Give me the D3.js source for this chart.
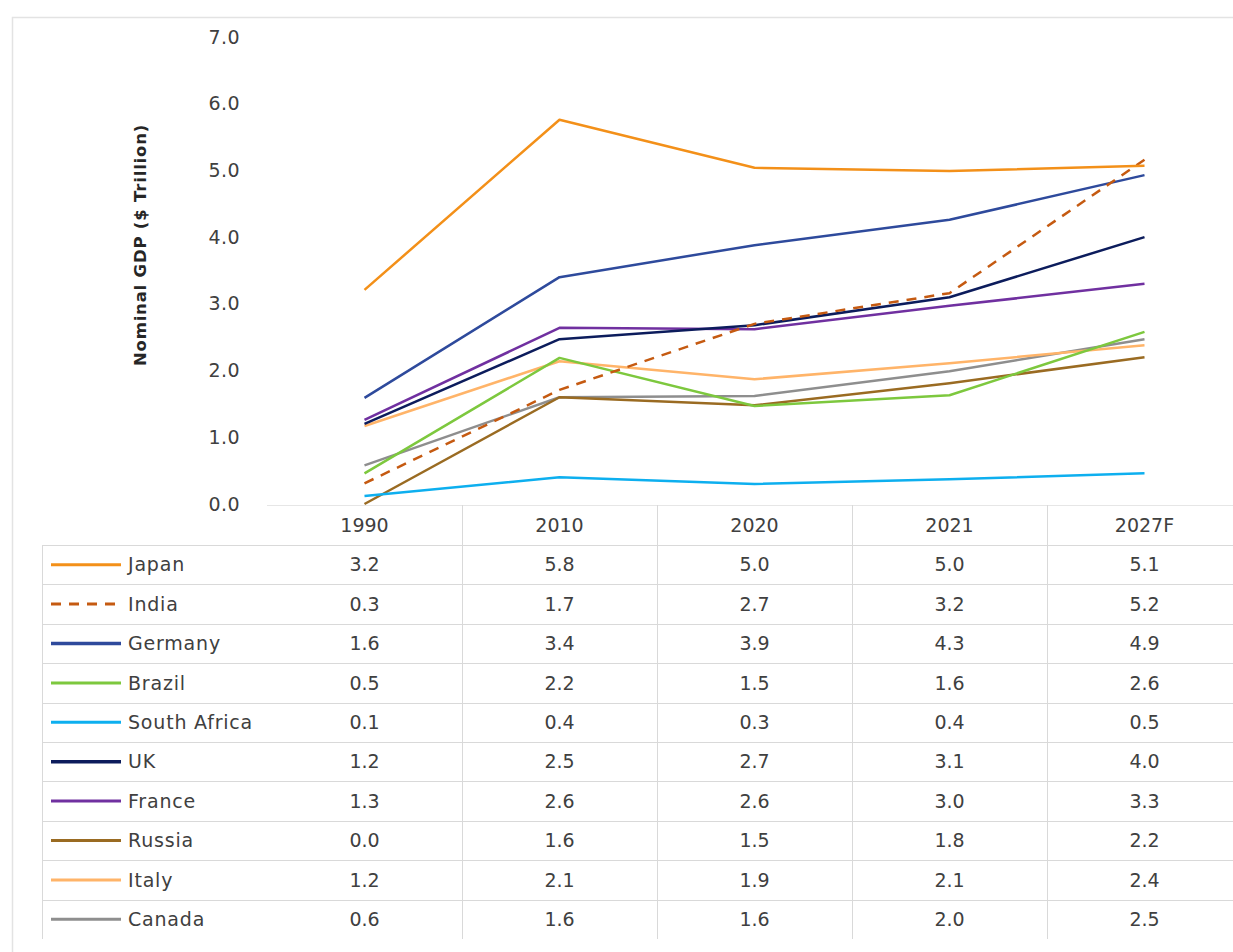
<!DOCTYPE html>
<html>
<head>
<meta charset="utf-8">
<script src="https://cdn.jsdelivr.net/npm/d3@7"></script>
<style>
  body { margin: 0; background: #fff; }
  svg { display: block; font-family: "DejaVu Sans", "Open Sans", sans-serif; }
</style>
</head>
<body>
<svg id="chart" width="1233" height="952"></svg>
<script>
// categories and series (table shows them rounded)
const years = ['1990', '2010', '2020', '2021', '2027F'];
const countries = ['Japan', 'India', 'Germany', 'Brazil', 'South Africa', 'UK', 'France', 'Russia', 'Italy', 'Canada'];
const japan = [3.21, 5.76, 5.04, 4.99, 5.07];
const india = [0.31, 1.71, 2.70, 3.16, 5.16];
const germany = [1.59, 3.40, 3.88, 4.26, 4.93];
const brazil = [0.46, 2.19, 1.47, 1.63, 2.58];
const southAfrica = [0.12, 0.40, 0.30, 0.37, 0.46];
const uk = [1.20, 2.47, 2.68, 3.10, 4.00];
const france = [1.26, 2.64, 2.62, 2.97, 3.30];
const russia = [0.00, 1.60, 1.48, 1.81, 2.20];
const italy = [1.17, 2.14, 1.87, 2.11, 2.38];
const canada = [0.58, 1.60, 1.62, 1.99, 2.47];
const yTicks = [0, 1, 2, 3, 4, 5, 6, 7];

const seriesValues = [japan, india, germany, brazil, southAfrica, uk, france, russia, italy, canada];
const colors = ['#F39019', '#C55A11', '#2E4A9C', '#7DC83E', '#0DAFEF', '#0C1C5C', '#7030A0', '#9A6B22', '#FFB469', '#8E8E8E'];
const series = countries.map((name, i) => ({ name, values: seriesValues[i], color: colors[i], dashed: name === 'India' }));

const svg = d3.select('#chart');
const textColor = '#404040';
const gridColor = '#d9d9d9';
const fontSize = 19;

// chart area border
svg.append('path')
  .attr('d', 'M12.5,952 L12.5,17.5 L1233,17.5')
  .attr('fill', 'none')
  .attr('stroke', '#e3e3e3')
  .attr('stroke-width', 1.5);

const x = d3.scaleBand().domain(years).range([267, 1242]);
const y = d3.scaleLinear().domain([0, 7]).range([504, 37]);
const rowY = d3.scaleBand().domain(countries).range([545, 939]);

// y axis
const yAxis = svg.append('g')
  .attr('transform', 'translate(252,0)')
  .call(d3.axisLeft(y).tickValues(yTicks).tickFormat(d3.format('.1f')).tickSize(0).tickPadding(12));
yAxis.select('.domain').remove();
yAxis.selectAll('text')
  .attr('font-size', fontSize)
  .attr('letter-spacing', 0.4)
  .attr('fill', textColor)
  .attr('font-family', '"DejaVu Sans", sans-serif');

svg.append('text')
  .attr('transform', 'translate(146,245) rotate(-90)')
  .attr('text-anchor', 'middle')
  .attr('font-size', 16.5)
  .attr('font-weight', 'bold')
  .attr('letter-spacing', 0.8)
  .attr('fill', '#262626')
  .text('Nominal GDP ($ Trillion)');

// data table grid
const table = svg.append('g');
table.append('line')
  .attr('x1', 267).attr('x2', 1233).attr('y1', 505.5).attr('y2', 505.5)
  .attr('stroke', '#e6e6e6');
rowY.domain().forEach(c => {
  table.append('line')
    .attr('x1', 42).attr('x2', 1233)
    .attr('y1', Math.round(rowY(c)) + 0.5).attr('y2', Math.round(rowY(c)) + 0.5)
    .attr('stroke', gridColor);
});
table.append('line')
  .attr('x1', 42.5).attr('x2', 42.5).attr('y1', 545).attr('y2', 939)
  .attr('stroke', gridColor);
years.slice(1).forEach(yr => {
  table.append('line')
    .attr('x1', Math.round(x(yr)) + 0.5).attr('x2', Math.round(x(yr)) + 0.5)
    .attr('y1', 505).attr('y2', 939)
    .attr('stroke', gridColor);
});

// header labels
table.selectAll('text.year')
  .data(years)
  .enter().append('text')
  .attr('class', 'year')
  .attr('x', d => x(d) + x.bandwidth() / 2)
  .attr('y', 525)
  .attr('dy', '0.35em')
  .attr('text-anchor', 'middle')
  .attr('font-size', fontSize)
  .attr('fill', textColor)
  .text(d => d);

// rows: legend key, name, values
const rows = table.selectAll('g.row')
  .data(series)
  .enter().append('g')
  .attr('class', 'row')
  .attr('transform', d => `translate(0,${rowY(d.name) + rowY.bandwidth() / 2})`);

rows.append('line')
  .attr('x1', 51).attr('x2', 121)
  .attr('stroke', d => d.color)
  .attr('stroke-width', d => (d.name === 'UK' || d.name === 'Germany') ? 3.5 : 3)
  .attr('stroke-dasharray', d => d.dashed ? '10,8' : null);

rows.append('text')
  .attr('x', 128)
  .attr('dy', '0.35em')
  .attr('font-size', fontSize)
  .attr('letter-spacing', 0.8)
  .attr('fill', textColor)
  .text(d => d.name);

rows.selectAll('text.val')
  .data(d => d.values)
  .enter().append('text')
  .attr('class', 'val')
  .attr('x', (d, i) => x(years[i]) + x.bandwidth() / 2)
  .attr('dy', '0.35em')
  .attr('text-anchor', 'middle')
  .attr('font-size', fontSize)
  .attr('fill', textColor)
  .text(d => d.toFixed(1));

// lines
const line = d3.line()
  .x((d, i) => x(years[i]) + x.bandwidth() / 2)
  .y(d => y(d));

svg.append('g')
  .selectAll('path')
  .data(series.slice().reverse())
  .enter().append('path')
  .attr('d', d => line(d.values))
  .attr('fill', 'none')
  .attr('stroke', d => d.color)
  .attr('stroke-width', 2.5)
  .attr('stroke-linejoin', 'round')
  .attr('stroke-dasharray', d => d.dashed ? '10,8' : null);
</script>
</body>
</html>
